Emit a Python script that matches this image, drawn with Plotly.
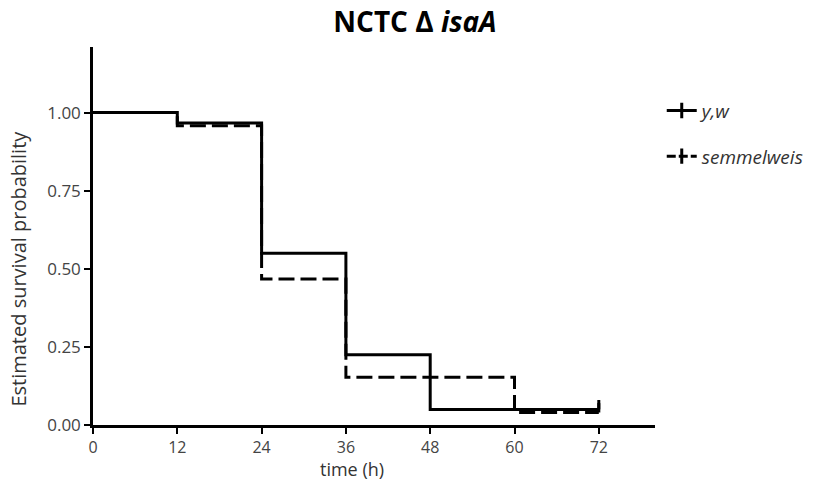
import plotly.graph_objects as go

# Data (Kaplan-Meier step functions)
t_yw = [0, 12, 24, 36, 48, 72]
s_yw = [1.00, 0.967, 0.55, 0.225, 0.05, 0.05]
t_sem = [0, 12, 24, 36, 60, 72]
s_sem = [1.00, 0.958, 0.467, 0.153, 0.04, 0.04]
censor_t = 72
x_ticks = [0, 12, 24, 36, 48, 60, 72]
y_ticks = [0, 0.25, 0.5, 0.75, 1.0]
y_ticklabels = ["0.00", "0.25", "0.50", "0.75", "1.00"]

FONT = "Open Sans"
DASH = "16px,6px"
fig = go.Figure()

fig.add_trace(go.Scatter(x=t_yw, y=s_yw, mode="lines", line=dict(shape="hv", color="black", width=3),
                         showlegend=False))
fig.add_trace(go.Scatter(x=t_sem, y=s_sem, mode="lines", line=dict(shape="hv", color="black", width=3, dash=DASH),
                         showlegend=False))
# censor marks
fig.add_trace(go.Scatter(x=[censor_t, censor_t], y=[s_yw[-1], s_yw[-1] + 0.03], mode="lines",
                         line=dict(color="black", width=3), showlegend=False))
fig.add_trace(go.Scatter(x=[censor_t, censor_t], y=[s_sem[-1], s_sem[-1] + 0.03], mode="lines",
                         line=dict(color="black", width=3), showlegend=False))
# legend entries
fig.add_trace(go.Scatter(x=[None], y=[None], mode="lines+markers", name="<i>y,w</i>", legendgroup="a",
                         line=dict(color="black", width=3),
                         marker=dict(symbol="line-ns", size=11, line=dict(width=3, color="black"))))
fig.add_trace(go.Scatter(x=[None], y=[None], mode="lines+markers", name="<i>semmelweis</i>", legendgroup="b",
                         line=dict(color="black", width=3, dash="9px,3px"),
                         marker=dict(symbol="line-ns", size=11, line=dict(width=3, color="black"))))

fig.add_annotation(text="Estimated survival probability", textangle=-90, xref="paper", yref="y",
                   x=-0.132, xanchor="center", y=0.5, yanchor="middle", showarrow=False,
                   font=dict(family=FONT, size=20, color="#333"))
fig.add_annotation(text="time (h)", xref="paper", yref="paper",
                   x=(352 - 93) / 562, xanchor="center", y=-(469 - 425) / 378, yanchor="middle", showarrow=False,
                   font=dict(family=FONT, size=18, color="#333"))

fig.update_layout(
    width=830, height=483,
    margin=dict(l=93, r=175, t=47, b=58),
    paper_bgcolor="white", plot_bgcolor="white",
    title=dict(text="<b>NCTC \u0394 <i>isaA</i></b>", x=0.5, xref="container", y=0.954, yref="container",
               xanchor="center", yanchor="middle", font=dict(family=FONT, size=28, color="black")),
    font=dict(family=FONT),
    xaxis=dict(range=[0, 80], tickvals=x_ticks, ticks="outside", ticklen=6, tickwidth=2, tickcolor="black",
               showline=True, linecolor="black", linewidth=2.5, showgrid=False, zeroline=False,
               tickfont=dict(family=FONT, size=16, color="#444")),
    yaxis=dict(range=[0, 1.21], tickvals=y_ticks, ticktext=y_ticklabels, ticks="outside", ticklen=6, tickwidth=2,
               tickcolor="black", showline=True, linecolor="black", linewidth=2.5, showgrid=False, zeroline=False,
               tickfont=dict(family=FONT, size=17, color="#444")),
    legend=dict(x=1.012, xanchor="left", y=0.882, yanchor="top", traceorder="grouped", tracegroupgap=18,
                font=dict(family=FONT, size=19, color="#333"), bgcolor="rgba(0,0,0,0)"),
)

fig.write_html("out.html")
